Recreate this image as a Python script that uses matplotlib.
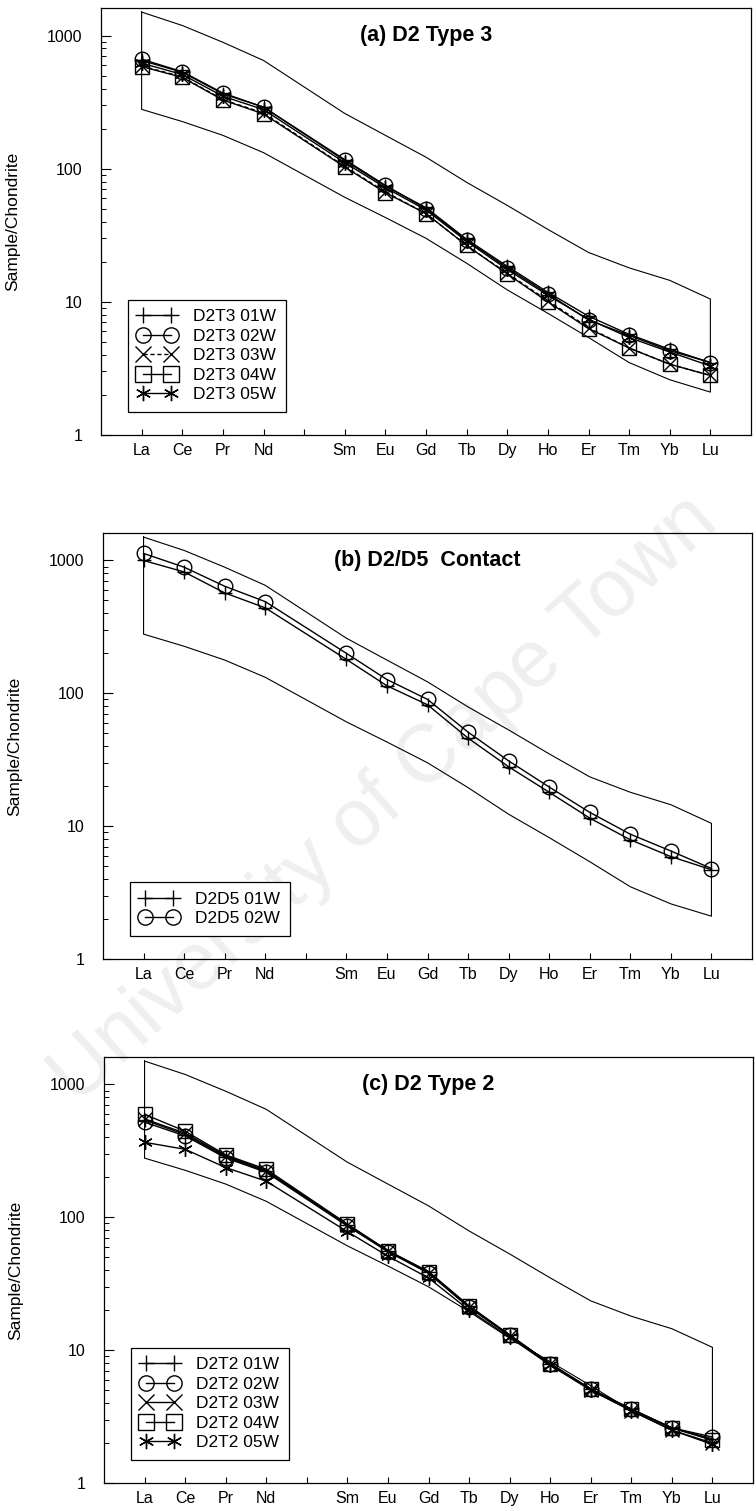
import matplotlib
matplotlib.use("Agg")
import matplotlib.pyplot as plt
from matplotlib.ticker import FixedLocator, FixedFormatter, LogLocator, NullFormatter

plt.rcParams['font.family'] = ['Liberation Sans', 'DejaVu Sans']

# x axis: chondrite-normalised REE, Pm slot left empty
tick_names = ['La', 'Ce', 'Pr', 'Nd', '', 'Sm', 'Eu', 'Gd', 'Tb', 'Dy', 'Ho', 'Er', 'Tm', 'Yb', 'Lu']
ree = ['La', 'Ce', 'Pr', 'Nd', 'Sm', 'Eu', 'Gd', 'Tb', 'Dy', 'Ho', 'Er', 'Tm', 'Yb', 'Lu']

# envelope drawn on every panel
env_upper = [1500, 1190, 890, 650, 260, 178, 122, 79, 53, 35, 23.5, 18, 14.5, 10.5]
env_lower = [279, 226, 178, 132, 61, 43, 30, 19.5, 12.3, 8.2, 5.4, 3.5, 2.6, 2.1]

# (a) D2 Type 3
d2t3_labels = ['D2T3 01W', 'D2T3 02W', 'D2T3 03W', 'D2T3 04W', 'D2T3 05W']
d2t3_01w = [650, 530, 365, 290, 115, 74, 51, 29.5, 18.5, 11.8, 7.8, 5.7, 4.4, 3.5]
d2t3_02w = [665, 535, 370, 290, 117, 75, 50, 29, 18, 11.5, 7.3, 5.6, 4.3, 3.5]
d2t3_03w = [590, 490, 330, 262, 104, 67, 46, 26.5, 16.4, 10.2, 6.4, 4.5, 3.4, 2.8]
d2t3_04w = [585, 485, 328, 258, 103, 66, 46, 26.5, 16.2, 10.0, 6.3, 4.5, 3.4, 2.8]
d2t3_05w = [620, 510, 350, 278, 111, 72, 49, 28.5, 17.5, 11.2, 7.4, 5.4, 4.2, 3.3]

# (b) D2/D5 Contact
d2d5_labels = ['D2D5 01W', 'D2D5 02W']
d2d5_01w = [1000, 820, 570, 440, 180, 114, 82, 46, 28, 18, 11.5, 7.9, 5.9, 4.7]
d2d5_02w = [1130, 890, 640, 490, 200, 127, 90, 51, 31, 19.7, 12.7, 8.7, 6.5, 4.8]

# (c) D2 Type 2
d2t2_labels = ['D2T2 01W', 'D2T2 02W', 'D2T2 03W', 'D2T2 04W', 'D2T2 05W']
d2t2_01w = [540, 420, 285, 222, 88, 56, 39, 21.5, 13, 7.9, 5.1, 3.6, 2.6, 2.15]
d2t2_02w = [520, 410, 280, 218, 86, 55, 38, 21, 13, 7.9, 5.1, 3.6, 2.6, 2.22]
d2t2_03w = [550, 430, 290, 225, 88, 56, 38, 21, 12.8, 7.8, 5.0, 3.5, 2.5, 2.0]
d2t2_04w = [596, 445, 295, 230, 89, 56, 39, 21.5, 13, 7.9, 5.1, 3.6, 2.6, 2.1]
d2t2_05w = [367, 325, 237, 187, 78, 51, 35, 20, 12.5, 7.7, 5.0, 3.5, 2.5, 1.95]

ASTERISK = (6, 2, 0)
MARKERS = ['+', 'o', 'x', 's', ASTERISK]


def ree_x():
    return [tick_names.index(el) + 1 for el in ree]


def draw_envelope(ax):
    xs = ree_x()
    poly_x = xs + xs[::-1] + [xs[0]]
    poly_y = env_upper + env_lower[::-1] + [env_upper[0]]
    ax.plot(poly_x, poly_y, color='black', lw=0.8, zorder=1)


def style_axes(ax, title):
    ax.set_yscale('log')
    ax.set_xlim(0, 16)
    ax.set_ylim(1, 1610)
    ax.set_facecolor('none')
    ax.xaxis.set_major_locator(FixedLocator(range(1, 16)))
    ax.xaxis.set_major_formatter(FixedFormatter(tick_names))
    ax.yaxis.set_major_locator(FixedLocator([1, 10, 100, 1000]))
    ax.yaxis.set_major_formatter(FixedFormatter(['1', '10', '100', '1000']))
    ax.yaxis.set_minor_locator(LogLocator(base=10, subs=range(2, 10)))
    ax.yaxis.set_minor_formatter(NullFormatter())
    ax.tick_params(axis='x', direction='in', length=4, width=0.8, pad=6, labelsize=11.5)
    ax.tick_params(axis='y', which='major', direction='in', length=7, width=0.8, pad=13.5, labelsize=11.5)
    ax.tick_params(axis='y', which='minor', direction='in', length=3.5, width=0.7)
    for sp in ax.spines.values():
        sp.set_linewidth(0.9)
    ax.set_ylabel('Sample/Chondrite', fontsize=12.5)
    ax.yaxis.set_label_coords(-0.125, 0.5)
    ax.text(0.5, 0.935, title, transform=ax.transAxes, ha='center', va='center',
            fontsize=15.5, fontweight='bold')


def draw_series(ax, series, labels, styles):
    xs = ree_x()
    for vals, lab, mk, ls in zip(series, labels, MARKERS, styles):
        ax.plot(xs, vals, color='black', lw=1.0, ls=ls, marker=mk, ms=10.5,
                mfc='none', mec='black', mew=1.0, label=lab, zorder=3)
    ax.legend(loc='lower left', bbox_to_anchor=(0.042, 0.054), borderaxespad=0,
              fancybox=False, edgecolor='black', framealpha=1, fontsize=12.5,
              handlelength=2.2, handletextpad=1.0, labelspacing=0.25,
              borderpad=0.55, numpoints=2, markerscale=1.05)
    ax.get_legend().get_frame().set_linewidth(0.9)


fig = plt.figure(figsize=(7.56, 15.11), dpi=100)

# faint scan watermark across the page
fig.text(385 / 756, 1 - 800 / 1511, 'University of Cape Town', rotation=42, fontsize=58,
         color='#efefef', ha='center', va='center', rotation_mode='anchor', zorder=-1)

ax_a = fig.add_axes([101 / 756, 1 - 435 / 1511, 650 / 756, 427 / 1511])
draw_envelope(ax_a)
draw_series(ax_a, [d2t3_01w, d2t3_02w, d2t3_03w, d2t3_04w, d2t3_05w], d2t3_labels,
            ['-', '-', (0, (3, 2)), '-', '-'])
style_axes(ax_a, '(a) D2 Type 3')

ax_b = fig.add_axes([103 / 756, 1 - 959 / 1511, 649 / 756, 426 / 1511])
draw_envelope(ax_b)
draw_series(ax_b, [d2d5_01w, d2d5_02w], d2d5_labels, ['-', '-'])
style_axes(ax_b, '(b) D2/D5  Contact')

ax_c = fig.add_axes([104 / 756, 1 - 1483 / 1511, 649 / 756, 426 / 1511])
draw_envelope(ax_c)
draw_series(ax_c, [d2t2_01w, d2t2_02w, d2t2_03w, d2t2_04w, d2t2_05w], d2t2_labels,
            ['-', '-', '-', '-', '-'])
style_axes(ax_c, '(c) D2 Type 2')

fig.savefig('out.png', dpi=100)
